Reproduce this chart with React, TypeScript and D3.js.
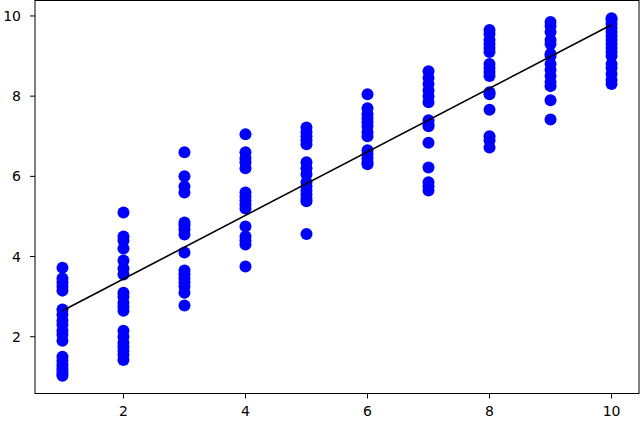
import React from 'react';
import { scaleLinear, extent, line } from 'd3';

// x positions of the ten columns
const xValues = [1, 2, 3, 4, 5, 6, 7, 8, 9, 10];

// y values read per column
const y1 = [3.72, 3.45, 3.35, 3.25, 3.15, 2.68, 2.55, 2.4, 2.3, 2.15, 2.05, 1.9, 1.5, 1.4, 1.3, 1.22, 1.15, 1.08, 1.03];
const y2 = [5.1, 4.5, 4.4, 4.2, 3.9, 3.7, 3.55, 3.1, 3.0, 2.85, 2.75, 2.65, 2.15, 2.0, 1.85, 1.75, 1.65, 1.55, 1.42];
const y3 = [6.6, 6.0, 5.75, 5.6, 4.85, 4.78, 4.68, 4.55, 4.1, 3.65, 3.55, 3.45, 3.35, 3.25, 3.1, 2.78];
const y4 = [7.05, 6.6, 6.45, 6.35, 6.2, 5.6, 5.5, 5.4, 5.3, 5.2, 4.75, 4.5, 4.4, 4.3, 3.75];
const y5 = [7.22, 7.1, 7.0, 6.9, 6.8, 6.35, 6.2, 6.05, 5.85, 5.75, 5.65, 5.55, 5.45, 5.38, 4.56];
const y6 = [8.05, 7.7, 7.55, 7.45, 7.35, 7.25, 7.1, 7.0, 6.65, 6.55, 6.45, 6.35, 6.3];
const y7 = [8.62, 8.45, 8.3, 8.15, 8.0, 7.85, 7.4, 7.3, 7.25, 6.84, 6.22, 5.85, 5.75, 5.65];
const y8 = [9.65, 9.55, 9.4, 9.3, 9.2, 9.1, 8.8, 8.7, 8.6, 8.5, 8.1, 8.05, 7.66, 7.0, 6.9, 6.72];
const y9 = [9.85, 9.75, 9.6, 9.4, 9.3, 9.05, 9.0, 8.8, 8.65, 8.5, 8.35, 8.25, 7.9, 7.42];
const y10 = [9.94, 9.9, 9.8, 9.7, 9.6, 9.5, 9.4, 9.3, 9.2, 9.1, 9.0, 8.8, 8.7, 8.55, 8.4, 8.3];

// fitted line end points
const fitX = [1, 10];
const fitY = [2.65, 9.78];

const xTicks = [2, 4, 6, 8, 10];
const yTicks = [2, 4, 6, 8, 10];

const columns = [y1, y2, y3, y4, y5, y6, y7, y8, y9, y10];

export default function App() {
  const width = 640, height = 423;
  const left = 35, right = 639, top = 0.5, bottom = 393.5;

  const points = [];
  columns.forEach((ys, i) => ys.forEach(v => points.push({ x: xValues[i], y: v })));

  // matplotlib style 5% margins
  const [x0, x1] = extent(points, d => d.x);
  const [yMin, yMax] = extent(points, d => d.y);
  const xPad = (x1 - x0) * 0.05, yPad = (yMax - yMin) * 0.05;

  const x = scaleLinear().domain([x0 - xPad, x1 + xPad]).range([left, right]);
  const y = scaleLinear().domain([yMin - yPad, yMax + yPad]).range([bottom, top]);

  const fitLine = line<number>().x((d, i) => x(fitX[i])).y(d => y(d));

  const font = { fontFamily: 'DejaVu Sans', fontSize: 14, fill: '#000' };

  return (
    <svg width={width} height={height} style={{ position: 'absolute', left: 0, top: 0, background: '#fff' }}>
      <rect x={0} y={0} width={width} height={height} fill="#fff" />
      {points.map((d, i) => (
        <circle key={i} cx={x(d.x)} cy={y(d.y)} r={6} fill="#0000ff" />
      ))}
      <path d={fitLine(fitY)} stroke="#000" strokeWidth={1.6} fill="none" />

      <rect x={left} y={top} width={right - left} height={bottom - top} fill="none" stroke="#000" strokeWidth={1} />

      {xTicks.map(t => (
        <g key={'x' + t}>
          <line x1={x(t)} x2={x(t)} y1={bottom} y2={bottom + 5} stroke="#000" />
          <text x={x(t)} y={416} textAnchor="middle" {...font}>{t}</text>
        </g>
      ))}
      {yTicks.map(t => (
        <g key={'y' + t}>
          <line x1={left - 5} x2={left} y1={y(t)} y2={y(t)} stroke="#000" />
          <text x={21} y={y(t)} dy="0.36em" textAnchor="end" {...font}>{t}</text>
        </g>
      ))}
    </svg>
  );
}
